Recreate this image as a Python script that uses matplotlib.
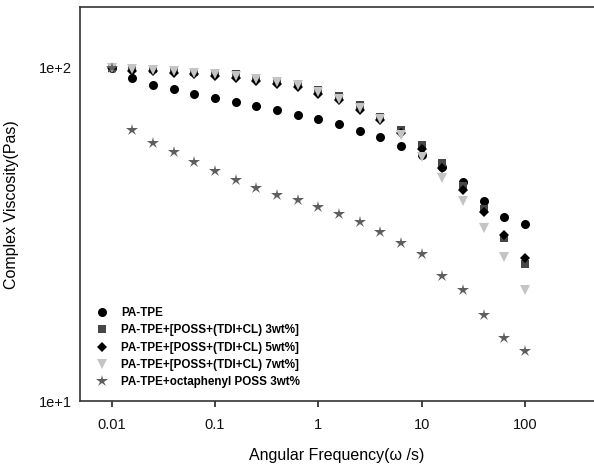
import matplotlib

matplotlib.use("Agg")
import matplotlib.pyplot as plt
from matplotlib import font_manager
from matplotlib.ticker import FixedLocator, FixedFormatter, NullLocator

# angular frequency (rad/s), 5 points per decade
freq = [0.01, 0.0158, 0.0251, 0.0398, 0.0631, 0.1, 0.158, 0.251, 0.398, 0.631,
        1.0, 1.58, 2.51, 3.98, 6.31, 10.0, 15.8, 25.1, 39.8, 63.1, 100.0]

pa_tpe = [100, 93.2, 88.9, 86.1, 83.6, 81.2, 78.9, 76.6, 74.5, 72.3,
          70.0, 68.0, 64.7, 62.0, 58.2, 54.9, 50.5, 45.5, 39.7, 35.6, 33.9]
poss_3 = [100, 100, 99.3, 98.6, 97.1, 96.8, 95.9, 93.3, 91.6, 89.6,
          85.9, 82.1, 77.5, 71.2, 65.2, 58.8, 51.9, 44.3, 37.6, 30.8, 25.8]
poss_5 = [100, 98.1, 97.5, 96.6, 95.5, 94.8, 93.2, 91.2, 89.6, 87.5,
          83.6, 79.8, 74.5, 69.5, 63.9, 57.2, 50.1, 43.1, 36.9, 31.4, 26.8]
poss_7 = [100, 99.0, 98.5, 97.5, 96.5, 96.0, 94.5, 92.5, 90.5, 88.5,
          84.5, 80.5, 75.5, 70.4, 63.0, 53.9, 46.7, 39.7, 33.1, 27.1, 21.6]
octa_3 = [100, 65.2, 59.5, 55.8, 52.2, 49.1, 46.2, 43.7, 41.5, 40.1,
          38.2, 36.3, 34.4, 32.2, 29.9, 27.7, 23.8, 21.6, 18.1, 15.5, 14.1]

labels = ["PA-TPE",
          "PA-TPE+[POSS+(TDI+CL) 3wt%]",
          "PA-TPE+[POSS+(TDI+CL) 5wt%]",
          "PA-TPE+[POSS+(TDI+CL) 7wt%]",
          "PA-TPE+octaphenyl POSS 3wt%"]
xticks = [0.01, 0.1, 1, 10, 100]
xticklabels = ["0.01", "0.1", "1", "10", "100"]
yticks = [10, 100]
yticklabels = ["1e+1", "1e+2"]

names = {f.name for f in font_manager.fontManager.ttflist}
narrow = "Liberation Sans Narrow" if "Liberation Sans Narrow" in names else "Liberation Sans"
plt.rcParams["font.family"] = ["Liberation Sans", "DejaVu Sans"]

fig = plt.figure(figsize=(5.94, 4.69), dpi=100)
ax = fig.add_axes([80 / 594, 1 - 401 / 469, 1 - 80 / 594, (401 - 7.5) / 469])

series = [
    (pa_tpe, "o", "#000000", 6.5),
    (poss_3, "s", "#474747", 5.8),
    (poss_5, "D", "#000000", 5.6),
    (poss_7, "v", "#c4c4c4", 7.2),
    (octa_3, "*", "#5e5e5e", 9.0),
]
for (vals, mk, col, ms), lab in zip(series, labels):
    ax.plot(freq, vals, linestyle="none", marker=mk, color=col, markersize=ms,
            markeredgewidth=0, label=lab)

ax.set_xscale("log")
ax.set_yscale("log")
ax.set_xlim(10 ** -2.307, 10 ** 2.668)
ax.set_ylim(10, 10 ** 2.181)
ax.xaxis.set_major_locator(FixedLocator(xticks))
ax.xaxis.set_major_formatter(FixedFormatter(xticklabels))
ax.xaxis.set_minor_locator(NullLocator())
ax.yaxis.set_major_locator(FixedLocator(yticks))
ax.yaxis.set_major_formatter(FixedFormatter(yticklabels))
ax.yaxis.set_minor_locator(NullLocator())
ax.tick_params(axis="x", length=4, width=1.1, pad=8, labelsize=10.5, colors="#111111")
ax.tick_params(axis="y", length=0, pad=6, labelsize=10.5, colors="#111111")

for side in ("left", "bottom", "top"):
    ax.spines[side].set_linewidth(1.2)
    ax.spines[side].set_color("#333333")
ax.spines["right"].set_visible(False)

ax.set_xlabel("Angular Frequency(ω /s)", fontsize=11.5, labelpad=12)
ax.set_ylabel("Complex Viscosity(Pas)", fontsize=11.5, labelpad=14)

ax.legend(loc="lower left", bbox_to_anchor=(0.014, 0.012), frameon=False,
          prop={"family": narrow, "weight": "bold", "size": 8.4},
          handletextpad=1.0, labelspacing=0.45, borderaxespad=0.3,
          handlelength=1.2)

fig.savefig("out.png", dpi=100)
